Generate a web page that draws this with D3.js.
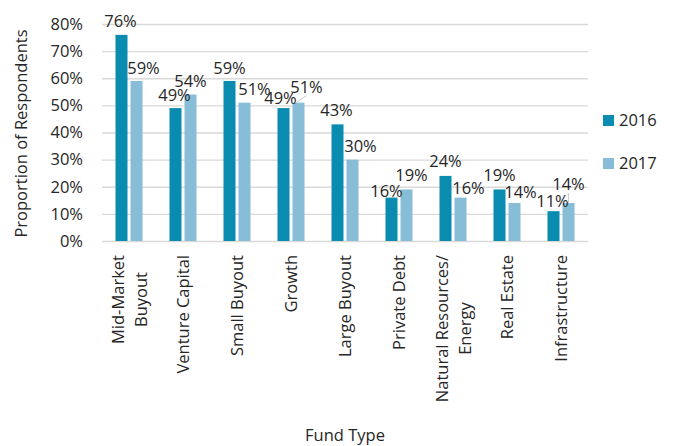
<!DOCTYPE html>
<html>
<head>
<meta charset="utf-8">
<script src="https://cdn.jsdelivr.net/npm/d3@7"></script>
<style>
  html, body { margin: 0; padding: 0; background: #fff; }
  text { font-family: "Open Sans", "Noto Sans", sans-serif; fill: #262626; }
</style>
</head>
<body>
<svg id="chart" width="677" height="446"></svg>
<script>
// Fund types surveyed (line breaks mark wrapped axis labels)
const categories = [
  "Mid-Market\nBuyout", "Venture Capital", "Small Buyout", "Growth", "Large Buyout",
  "Private Debt", "Natural Resources/\nEnergy", "Real Estate", "Infrastructure"
];
const years = ["2016", "2017"];
const values2016 = [0.76, 0.49, 0.59, 0.49, 0.43, 0.16, 0.24, 0.19, 0.11];
const values2017 = [0.59, 0.54, 0.51, 0.51, 0.30, 0.19, 0.16, 0.14, 0.14];
const yTicks = [0, 0.1, 0.2, 0.3, 0.4, 0.5, 0.6, 0.7, 0.8];

// Hand-placed data-label nudges [dx, dy] relative to the bar top centre
const labelNudge2016 = [[-1,-8],[-1,-7],[0,-7],[-3,-4],[-1,-8],[-5,-1],[0,-9],[0,-8],[-1,-4]];
const labelNudge2017 = [[7,-7],[0,-8],[10,-8],[8,-10],[8,-8],[5,-8],[8,-4],[6,-5],[0,-13]];

const FONT = 16.5;
const colors = { "2016": "#0a8cb0", "2017": "#87bdd6" };
const series = [
  { year: "2016", values: values2016, nudge: labelNudge2016 },
  { year: "2017", values: values2017, nudge: labelNudge2017 }
];

const svg = d3.select("#chart");
const plot = { left: 102, right: 588, top: 24, bottom: 241 };
const pct = d3.format(".0%");

const x0 = d3.scaleBand().domain(categories).range([plot.left, plot.right])
  .paddingInner(0.5).paddingOuter(0.25);
const x1 = d3.scaleBand().domain(years).range([0, x0.bandwidth()]).paddingInner(0.2);
const y = d3.scaleLinear().domain([0, 0.8]).range([plot.bottom, plot.top]);

// Gridlines and y tick labels
const yAxis = d3.axisLeft(y).tickValues(yTicks).tickFormat(pct)
  .tickSize(-(plot.right - plot.left)).tickPadding(19);
const gy = svg.append("g").attr("transform", `translate(${plot.left},0)`).call(yAxis);
gy.select(".domain").remove();
gy.selectAll(".tick line").attr("stroke", "#d9d9d9").attr("stroke-width", 1.3);
gy.selectAll(".tick text").attr("font-size", FONT).attr("fill", "#262626")
  .attr("font-family", '"Open Sans", sans-serif');

// Bars
const groups = svg.append("g").selectAll("g").data(series).join("g");
groups.selectAll("rect")
  .data(s => s.values.map((v, i) => ({ v, i, year: s.year })))
  .join("rect")
  .attr("x", d => x0(categories[d.i]) + x1(d.year))
  .attr("y", d => y(d.v))
  .attr("width", x1.bandwidth())
  .attr("height", d => y(0) - y(d.v))
  .attr("fill", d => colors[d.year]);

// Data labels, with thin leader lines where a label sits away from its bar
const labels = svg.append("g");
series.forEach(s => {
  s.values.forEach((v, i) => {
    const cx = x0(categories[i]) + x1(s.year) + x1.bandwidth() / 2;
    const top = y(v);
    const [dx, dy] = s.nudge[i];
    if (dy <= -10) {
      labels.append("line")
        .attr("x1", cx - (dx > 0 ? 3 : 0)).attr("y1", top)
        .attr("x2", cx + dx).attr("y2", top + dy + 3)
        .attr("stroke", "#bfbfbf").attr("stroke-width", 0.8);
    }
    labels.append("text")
      .attr("x", cx + dx).attr("y", top + dy)
      .attr("text-anchor", "middle").attr("font-size", FONT)
      .text(pct(v));
  });
});

// Rotated category labels
const xLab = svg.append("g");
categories.forEach(c => {
  const lines = c.split("\n");
  const cx = x0(c) + x0.bandwidth() / 2;
  const g = xLab.append("g");
  const texts = lines.map((ln, k) => {
    const off = (k - (lines.length - 1) / 2) * 23 + 6;
    return g.append("text").attr("font-size", FONT).attr("text-anchor", "middle")
      .attr("data-x", cx + off).text(ln);
  });
  const maxLen = d3.max(texts, t => t.node().getComputedTextLength());
  const yc = 255 + maxLen / 2;
  texts.forEach(t => {
    const tx = +t.attr("data-x");
    t.attr("transform", `translate(${tx},${yc}) rotate(-90)`).attr("data-x", null);
  });
});

// Axis titles
svg.append("text").attr("transform", `translate(27,${(plot.top + plot.bottom) / 2 + 1}) rotate(-90)`)
  .attr("text-anchor", "middle").attr("font-size", FONT).text("Proportion of Respondents");
svg.append("text").attr("x", (plot.left + plot.right) / 2).attr("y", 441)
  .attr("text-anchor", "middle").attr("font-size", FONT).text("Fund Type");

// Legend
const legend = svg.append("g").selectAll("g").data(years).join("g")
  .attr("transform", (d, i) => `translate(603,${115 + i * 43})`);
legend.append("rect").attr("width", 11).attr("height", 11).attr("fill", d => colors[d]);
legend.append("text").attr("x", 16).attr("y", 11).attr("font-size", FONT).text(d => d);
</script>
</body>
</html>
